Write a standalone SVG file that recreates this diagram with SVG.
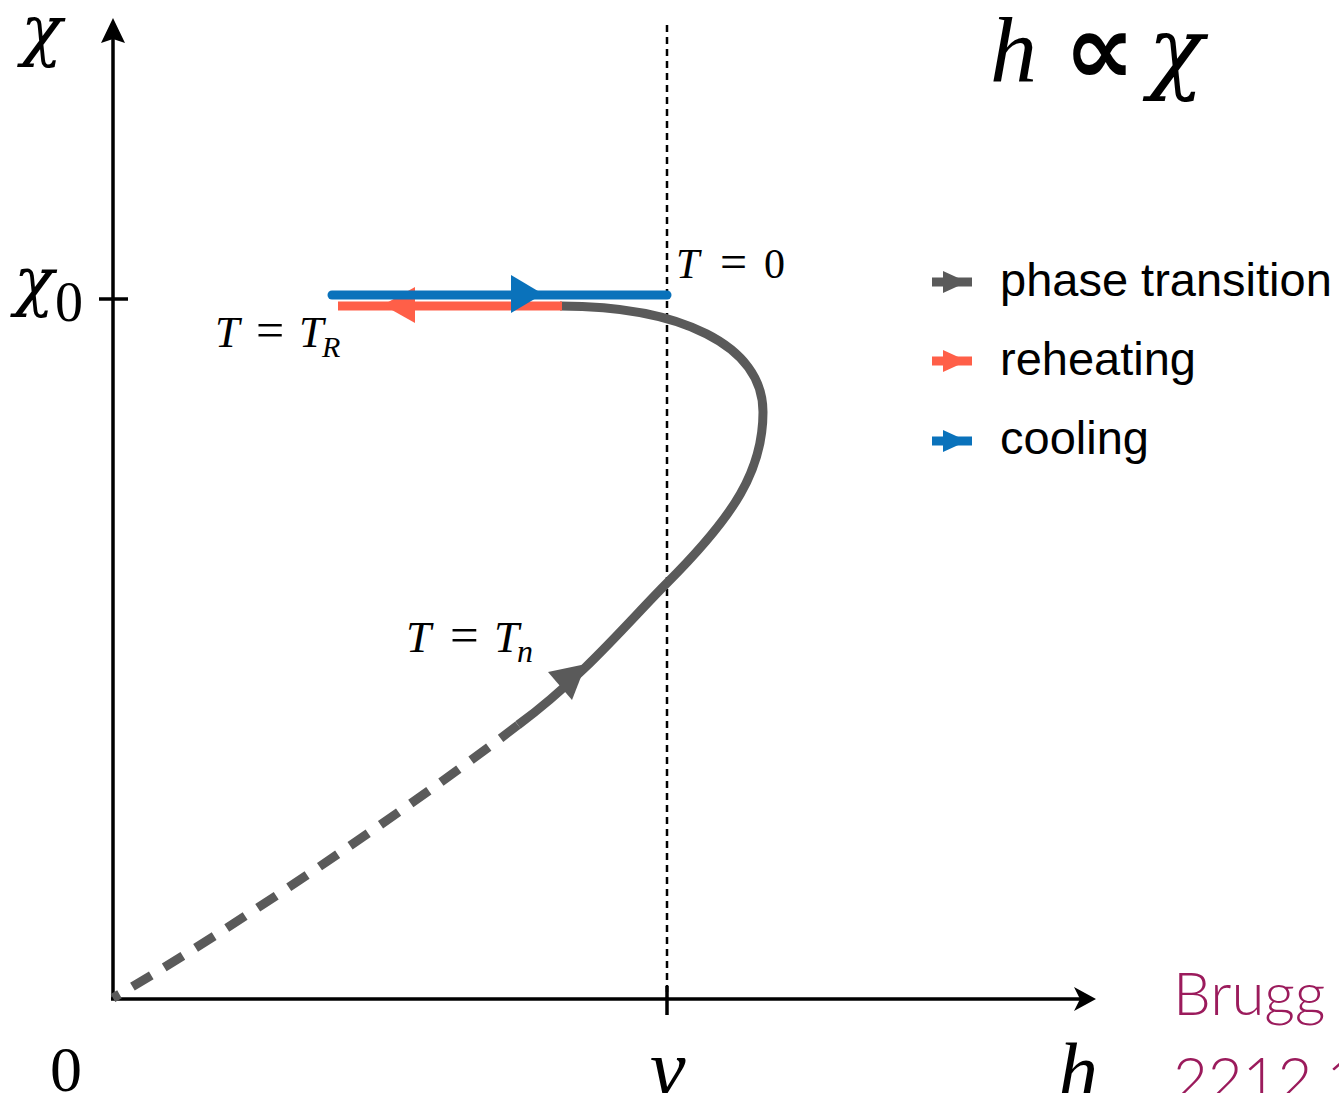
<svg xmlns="http://www.w3.org/2000/svg" width="1339" height="1093" viewBox="0 0 1339 1093">
<style>
.ax{stroke:#000;stroke-width:3.5;fill:none}
.m{font-family:"Liberation Serif","DejaVu Serif",serif;fill:#000}
.g{font-family:"DejaVu Serif",serif;font-style:italic;fill:#000}
.i{font-style:italic}
.leg{font-family:"Liberation Sans",Arial,sans-serif;font-size:47px;fill:#000}
.gray{stroke:#5a5a5a;stroke-width:9;fill:none}
</style>
<rect width="1339" height="1093" fill="#fff"/>
<g id="axes">
<line class="ax" x1="113" y1="1000" x2="113" y2="38"/>
<polygon points="113,18 125,43 113,39 101,43" fill="#000"/>
<line class="ax" x1="111" y1="999" x2="1080" y2="999"/>
<polygon points="1096,999 1074,987 1080,999 1074,1011" fill="#000"/>
<line class="ax" x1="99" y1="299" x2="128" y2="299"/>
<line class="ax" x1="667" y1="986" x2="667" y2="1015"/>
<line x1="667" y1="25" x2="667" y2="999" stroke="#000" stroke-width="2.5" stroke-dasharray="7,5"/>
</g>
<g id="labels">
<text class="g" x="21" y="53" font-size="68">χ</text>
<text class="g" x="14" y="303" font-size="66">χ</text>
<text class="m" x="55" y="321" font-size="56">0</text>
<text class="m" x="50" y="1091" font-size="64">0</text>
<text class="m i" x="650" y="1095" font-size="80">v</text>
<text class="m i" x="1058" y="1098" font-size="80">h</text>
<text class="m i" x="990" y="82" font-size="94">h</text>
<text x="1064" y="84" font-family="'DejaVu Sans',sans-serif" font-weight="bold" font-size="100">∝</text>
<text class="g" x="1148" y="82" font-size="92">χ</text>
<text class="m" font-size="44" y="347"><tspan class="i" x="215">T</tspan><tspan x="256" font-size="50">=</tspan><tspan class="i" x="299">T</tspan></text>
<text class="m i" font-size="30" x="322" y="357">R</text>
<text class="m" font-size="42" y="278"><tspan class="i" x="676">T</tspan><tspan x="720" font-size="48">=</tspan><tspan x="764">0</tspan></text>
<text class="m" font-size="45" y="652"><tspan class="i" x="406">T</tspan><tspan x="450" font-size="51">=</tspan><tspan class="i" x="494">T</tspan></text>
<text class="m i" font-size="32" x="517" y="662">n</text>
</g>
<g id="curves">
<path class="gray" d="M560,306 C680,306 763,345 763,412 C763,470 735,515 667,583 C630,620 582,678 518,725"/>
<path class="gray" d="M518,725 C438,787 243,923 113,998" stroke-dasharray="22,15"/>
<polygon points="586,664 572,700 548,672" fill="#5a5a5a"/>
<line x1="338" y1="306" x2="562" y2="306" stroke="#ff5f48" stroke-width="9"/>
<polygon points="383,305 415,287 415,323" fill="#ff5f48"/>
<line x1="332" y1="295" x2="667" y2="295" stroke="#0a72bb" stroke-width="9" stroke-linecap="round"/>
<polygon points="543,294 511,275 511,313" fill="#0a72bb"/>
</g>
<g id="legend">
<g id="leg-phase"><line x1="932" y1="282" x2="972" y2="282" stroke="#5a5a5a" stroke-width="9"/><polygon points="943,271 967,282 943,293" fill="#5a5a5a"/><text class="leg" x="1000" y="296">phase transition</text></g>
<g id="leg-reheat"><line x1="932" y1="361" x2="972" y2="361" stroke="#ff5f48" stroke-width="9"/><polygon points="943,350 967,361 943,372" fill="#ff5f48"/><text class="leg" x="1000" y="375">reheating</text></g>
<g id="leg-cool"><line x1="932" y1="441" x2="972" y2="441" stroke="#0a72bb" stroke-width="9"/><polygon points="943,430 967,441 943,452" fill="#0a72bb"/><text class="leg" x="1000" y="454">cooling</text></g>
</g>
<g id="citation" font-family="Lato,'Open Sans',sans-serif" font-weight="300" font-size="60" fill="#9b1b5c">
<text x="1173" y="1015">Brugg</text>
<text x="1173" y="1100">2212.1</text>
</g>
</svg>
